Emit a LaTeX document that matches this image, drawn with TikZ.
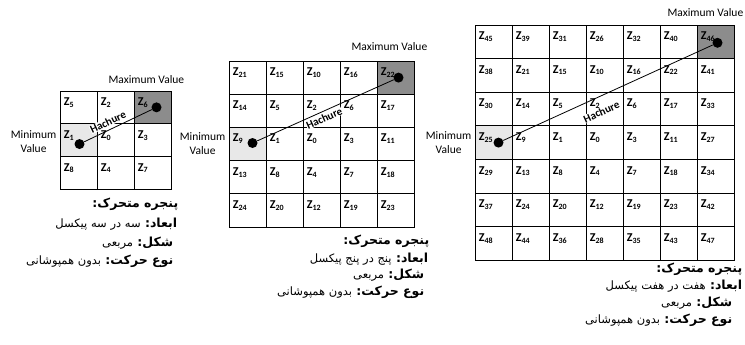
\documentclass[tikz,border=0pt]{standalone}
\usepackage{fontspec}
\setmainfont{Carlito}
\newfontfamily\fafont[Script=Arabic]{DejaVu Sans}
\TeXXeTstate=1
\usepackage{tikz}
\usetikzlibrary{positioning,backgrounds}
\definecolor{mincell}{RGB}{232,232,232}
\definecolor{maxcell}{RGB}{140,140,140}

\begin{document}
\begin{tikzpicture}[x=1pt, y=-1pt,
  cell/.style={draw, line width=0.8pt, minimum width=37pt, inner sep=0pt},
  zlab/.style={anchor=base west, inner sep=0pt, font=\fontsize{12}{14}\selectfont\bfseries},
  vlab/.style={font=\fontsize{11.5}{14}\selectfont, align=center, inner sep=0pt},
  dot/.style={circle, fill=black, minimum size=10pt, inner sep=0pt},
  hline/.style={line width=0.8pt},
  hach/.style={font=\fontsize{11}{12}\selectfont\bfseries, fill=white, inner sep=0.3pt, sloped},
  fakey/.style={font=\fontsize{12.5}{14}\selectfont\fafont\bfseries, inner sep=0pt, anchor=base east},
  faval/.style={font=\fontsize{11.5}{14}\selectfont\fafont, inner sep=0pt, anchor=base east}
]
\useasboundingbox (0,0) rectangle (745,345);

% 3 x 3 window
\foreach \z [count=\i from 0] in {5,2,6,1,0,3,8,4,7} {
  \pgfmathtruncatemacro\r{\i/3}
  \pgfmathtruncatemacro\c{mod(\i,3)}
  \node[cell, minimum height=32.7pt] (a-\r-\c) at (78.5+37*\c, 107.35+32.7*\r) {};
  \node[zlab] at ([shift={(4,15)}]a-\r-\c.north west) {Z\textsubscript{\z}};
}
\begin{scope}[on background layer]
  \fill[mincell] (a-1-0.south west) rectangle (a-1-0.north east);
  \fill[maxcell] (a-0-2.south west) rectangle (a-0-2.north east);
\end{scope}
\node[dot] (mina) at ([shift={(1,4)}]a-1-0.center) {};
\node[dot] (maxa) at ([shift={(4,0)}]a-0-2.center) {};
\draw[hline] (mina) -- node[hach, pos=0.40, above=3pt] {Hachure} (maxa);
\node[vlab, above=7pt] (maxlaba) at ([xshift=-25]a-0-2.north east) {Maximum Value};
\node[vlab, left=3pt of a-1-0, yshift=-2pt] (minlaba) {Minimum\\Value};
\node[fakey] (capa1) at ([shift={(7,18)}]a-2-2.south east) {\beginR پنجره متحرک:\endR};
\node[fakey] (capa2) at ([shift={(6,38)}]a-2-2.south east) {\beginR ابعاد:\endR};
\node[faval] (capa2v) at ([xshift=-4pt]capa2.base west) {\beginR سه در سه پیکسل\endR};
\node[fakey] (capa3) at ([shift={(2,57)}]a-2-2.south east) {\beginR شکل:\endR};
\node[faval] (capa3v) at ([xshift=-4pt]capa3.base west) {\beginR مربعی\endR};
\node[fakey] (capa4) at ([shift={(2,75)}]a-2-2.south east) {\beginR نوع حرکت:\endR};
\node[faval] (capa4v) at ([xshift=-4pt]capa4.base west) {\beginR بدون همپوشانی\endR};

% 5 x 5 window
\foreach \z [count=\i from 0] in {21,15,10,16,22,14,5,2,6,17,9,1,0,3,11,13,8,4,7,18,24,20,12,19,23} {
  \pgfmathtruncatemacro\r{\i/5}
  \pgfmathtruncatemacro\c{mod(\i,5)}
  \node[cell, minimum height=33.2pt] (b-\r-\c) at (247.5+37*\c, 77.6+33.2*\r) {};
  \node[zlab] at ([shift={(4,15)}]b-\r-\c.north west) {Z\textsubscript{\z}};
}
\begin{scope}[on background layer]
  \fill[mincell] (b-2-0.south west) rectangle (b-2-0.north east);
  \fill[maxcell] (b-0-4.south west) rectangle (b-0-4.north east);
\end{scope}
\node[dot] (minb) at ([shift={(5,-1)}]b-2-0.center) {};
\node[dot] (maxb) at ([shift={(3,0)}]b-0-4.center) {};
\draw[hline] (minb) -- node[hach, pos=0.47, below=2pt] {Hachure} (maxb);
\node[vlab, above=10pt] (maxlabb) at ([xshift=-25]b-0-4.north east) {Maximum Value};
\node[vlab, left=3pt of b-2-0] (minlabb) {Minimum\\Value};
\node[fakey] (capb1) at ([shift={(15,17)}]b-4-4.south east) {\beginR پنجره متحرک:\endR};
\node[fakey] (capb2) at ([shift={(14,35)}]b-4-4.south east) {\beginR ابعاد:\endR};
\node[faval] (capb2v) at ([xshift=-4pt]capb2.base west) {\beginR پنج در پنج پیکسل\endR};
\node[fakey] (capb3) at ([shift={(10,51)}]b-4-4.south east) {\beginR شکل:\endR};
\node[faval] (capb3v) at ([xshift=-4pt]capb3.base west) {\beginR مربعی\endR};
\node[fakey] (capb4) at ([shift={(10,68)}]b-4-4.south east) {\beginR نوع حرکت:\endR};
\node[faval] (capb4v) at ([xshift=-4pt]capb4.base west) {\beginR بدون همپوشانی\endR};

% 7 x 7 window
\foreach \z [count=\i from 0] in {45,39,31,26,32,40,46,38,21,15,10,16,22,41,30,14,5,2,6,17,33,
    25,9,1,0,3,11,27,29,13,8,4,7,18,34,37,24,20,12,19,23,42,48,44,36,28,35,43,47} {
  \pgfmathtruncatemacro\r{\i/7}
  \pgfmathtruncatemacro\c{mod(\i,7)}
  \node[cell, minimum height=33.6pt] (c-\r-\c) at (493.5+37*\c, 41.8+33.6*\r) {};
  \node[zlab] at ([shift={(4,15)}]c-\r-\c.north west) {Z\textsubscript{\z}};
}
\begin{scope}[on background layer]
  \fill[mincell] (c-3-0.south west) rectangle (c-3-0.north east);
  \fill[maxcell] (c-0-6.south west) rectangle (c-0-6.north east);
\end{scope}
\node[dot] (minc) at ([shift={(5,0)}]c-3-0.center) {};
\node[dot] (maxc) at ([shift={(2,1)}]c-0-6.center) {};
\draw[hline] (minc) -- node[hach, pos=0.44, below=10pt] {Hachure} (maxc);
\node[vlab, above=8pt] (maxlabc) at ([xshift=-29]c-0-6.north east) {Maximum Value};
\node[vlab, left=3pt of c-3-0] (minlabc) {Minimum\\Value};
\node[fakey] (capc1) at ([shift={(8,12)}]c-6-6.south east) {\beginR پنجره متحرک:\endR};
\node[fakey] (capc2) at ([shift={(8,29)}]c-6-6.south east) {\beginR ابعاد:\endR};
\node[faval] (capc2v) at ([xshift=-4pt]capc2.base west) {\beginR هفت در هفت پیکسل\endR};
\node[fakey] (capc3) at ([shift={(-2,46)}]c-6-6.south east) {\beginR شکل:\endR};
\node[faval] (capc3v) at ([xshift=-4pt]capc3.base west) {\beginR مربعی\endR};
\node[fakey] (capc4) at ([shift={(-2,63)}]c-6-6.south east) {\beginR نوع حرکت:\endR};
\node[faval] (capc4v) at ([xshift=-4pt]capc4.base west) {\beginR بدون همپوشانی\endR};
\end{tikzpicture}
\end{document}
